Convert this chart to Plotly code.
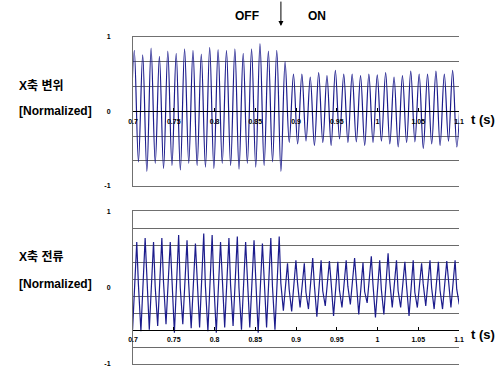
import plotly.graph_objects as go

# ---------------- data ----------------
x_tick_vals = [0.7, 0.75, 0.8, 0.85, 0.9, 0.95, 1.0, 1.05, 1.1]
x_tick_text = ["0.7", "0.75", "0.8", "0.85", "0.9", "0.95", "1", "1.05", "1.1"]
y_tick_vals = [-1, 0, 1]
y_tick_text = ["-1", "0", "1"]

# top panel: X-axis displacement (normalized) - peaks and troughs
disp_peak_t = [0.7016, 0.7119, 0.7222, 0.7324, 0.7427, 0.7530, 0.7633, 0.7736, 0.7838, 0.7941,
               0.8044, 0.8147, 0.8250, 0.8352, 0.8455, 0.8558, 0.8661, 0.8764, 0.8866, 0.8969,
               0.9072, 0.9175, 0.9278, 0.9380, 0.9483, 0.9586, 0.9689, 0.9792, 0.9894, 0.9997,
               1.0100, 1.0203, 1.0306, 1.0408, 1.0511, 1.0614, 1.0717, 1.0820, 1.0922, 1.1025]
disp_peak_v = [0.82, 0.76, 0.85, 0.74, 0.81, 0.78, 0.84, 0.82, 0.77, 0.86,
               0.83, 0.82, 0.84, 0.78, 0.84, 0.91, 0.81, 0.82, 0.67, 0.50,
               0.50, 0.46, 0.52, 0.48, 0.55, 0.50, 0.50, 0.48, 0.50, 0.49,
               0.52, 0.46, 0.48, 0.54, 0.50, 0.50, 0.54, 0.50, 0.55, 0.45]
disp_trough_t = [0.6965, 0.7067, 0.7170, 0.7273, 0.7375, 0.7478, 0.7581, 0.7684, 0.7787, 0.7889,
                 0.7992, 0.8095, 0.8198, 0.8301, 0.8403, 0.8506, 0.8609, 0.8712, 0.8815, 0.8917,
                 0.9020, 0.9123, 0.9226, 0.9329, 0.9431, 0.9534, 0.9637, 0.9740, 0.9843, 0.9945,
                 1.0048, 1.0151, 1.0254, 1.0357, 1.0459, 1.0562, 1.0665, 1.0768, 1.0871, 1.0973]
disp_trough_v = [-0.70, -0.68, -0.81, -0.70, -0.77, -0.73, -0.79, -0.70, -0.73, -0.75,
                 -0.77, -0.70, -0.73, -0.78, -0.70, -0.75, -0.73, -0.68, -0.81, -0.42,
                 -0.44, -0.40, -0.46, -0.42, -0.46, -0.37, -0.42, -0.41, -0.46, -0.42,
                 -0.40, -0.44, -0.48, -0.42, -0.41, -0.50, -0.44, -0.46, -0.40, -0.48]

# bottom panel: X-axis current (normalized) - peaks, falling-edge knees and troughs
curr_peak_t = [0.7046, 0.7149, 0.7252, 0.7354, 0.7457, 0.7560, 0.7663, 0.7766, 0.7868, 0.7971,
               0.8074, 0.8177, 0.8280, 0.8382, 0.8485, 0.8588, 0.8691, 0.8794, 0.8896, 0.8999,
               0.9102, 0.9205, 0.9308, 0.9410, 0.9513, 0.9616, 0.9719, 0.9822, 0.9924, 1.0027,
               1.0130, 1.0233, 1.0336, 1.0438, 1.0541, 1.0644, 1.0747, 1.0850, 1.0952]
curr_peak_v = [0.60, 0.65, 0.60, 0.65, 0.60, 0.69, 0.62, 0.58, 0.71, 0.69,
               0.60, 0.65, 0.67, 0.60, 0.62, 0.58, 0.65, 0.67, 0.32, 0.36,
               0.32, 0.39, 0.36, 0.35, 0.34, 0.36, 0.39, 0.33, 0.41, 0.36,
               0.45, 0.36, 0.34, 0.36, 0.32, 0.36, 0.34, 0.35, 0.36]
curr_knee_t = [0.7066, 0.7169, 0.7272, 0.7374, 0.7477, 0.7580, 0.7683, 0.7786, 0.7888, 0.7991,
               0.8094, 0.8197, 0.8300, 0.8402, 0.8505, 0.8608, 0.8711, 0.8814, 0.8916, 0.9019,
               0.9122, 0.9225, 0.9328, 0.9430, 0.9533, 0.9636, 0.9739, 0.9842, 0.9944, 1.0047,
               1.0150, 1.0253, 1.0356, 1.0458, 1.0561, 1.0664, 1.0767, 1.0870, 1.0972]
curr_knee_v = [0.05, 0.10, 0.02, 0.08, 0.12, 0.00, 0.06, 0.10, 0.03, 0.07,
               0.11, 0.04, 0.00, 0.09, 0.05, 0.12, 0.02, 0.06, -0.02, 0.06,
               -0.06, 0.04, -0.04, 0.08, -0.03, 0.02, 0.07, -0.05, 0.05, -0.02,
               0.09, -0.04, 0.03, -0.06, 0.05, 0.00, -0.03, 0.06, -0.02]
curr_trough_t = [0.6995, 0.7097, 0.7200, 0.7303, 0.7405, 0.7508, 0.7611, 0.7714, 0.7817, 0.7919,
                 0.8022, 0.8125, 0.8228, 0.8331, 0.8433, 0.8536, 0.8639, 0.8742, 0.8845, 0.8947,
                 0.9050, 0.9153, 0.9256, 0.9359, 0.9461, 0.9564, 0.9667, 0.9770, 0.9873, 0.9975,
                 1.0078, 1.0181, 1.0284, 1.0387, 1.0489, 1.0592, 1.0695, 1.0798, 1.0901, 1.1003]
curr_trough_v = [-0.55, -0.57, -0.55, -0.50, -0.48, -0.59, -0.48, -0.53, -0.52, -0.57,
                 -0.59, -0.52, -0.50, -0.55, -0.52, -0.59, -0.52, -0.55, -0.30, -0.31,
                 -0.26, -0.28, -0.38, -0.24, -0.37, -0.26, -0.22, -0.35, -0.20, -0.39,
                 -0.35, -0.26, -0.26, -0.37, -0.26, -0.24, -0.28, -0.28, -0.26, -0.22]

switch_time = 0.8815  # OFF -> ON


def merge(*pairs):
    pts = []
    for ts, vs in pairs:
        pts += list(zip(ts, vs))
    pts.sort()
    return [p[0] for p in pts], [p[1] for p in pts]


disp_t, disp_v = merge((disp_peak_t, disp_peak_v), (disp_trough_t, disp_trough_v))
curr_t, curr_v = merge((curr_peak_t, curr_peak_v), (curr_knee_t, curr_knee_v),
                       (curr_trough_t, curr_trough_v))

# ---------------- figure ----------------
LINE = "#1c1c8c"
GRID = "#6a6a6a"
FONT = "Arial, Liberation Sans, sans-serif"
KFONT = "Arial, Liberation Sans, Noto Sans CJK KR, sans-serif"

fig = go.Figure()
fig.add_trace(go.Scatter(x=disp_t, y=disp_v, mode="lines", xaxis="x", yaxis="y",
                         line=dict(color=LINE, width=1.2, shape="spline"),
                         showlegend=False, hoverinfo="skip"))
fig.add_trace(go.Scatter(x=curr_t, y=curr_v, mode="lines", xaxis="x2", yaxis="y2",
                         line=dict(color=LINE, width=1.2),
                         showlegend=False, hoverinfo="skip"))
# empty traces so the free tick-label axes get drawn
fig.add_trace(go.Scatter(x=[], y=[], xaxis="x3", yaxis="y", showlegend=False, hoverinfo="skip"))
fig.add_trace(go.Scatter(x=[], y=[], xaxis="x4", yaxis="y2", showlegend=False, hoverinfo="skip"))

top_dom = [0.5455, 1.0]
bot_dom = [0.0, 0.4667]
top_zero_pos = top_dom[0] + (0 - (-1)) / 2 * (top_dom[1] - top_dom[0])
bot_axis_val = -5 / 9
bot_zero_pos = bot_dom[0] + (bot_axis_val - (-1)) / 2 * (bot_dom[1] - bot_dom[0])

frame_x = dict(range=[0.7, 1.1], showgrid=False, zeroline=False, showticklabels=False,
               showline=True, mirror=True, linecolor="#707070", linewidth=1, ticks="")
tick_x = dict(range=[0.7, 1.1], tickmode="array", tickvals=x_tick_vals, ticktext=x_tick_text,
              showgrid=False, zeroline=False, showline=True, linecolor="black", linewidth=1,
              ticks="inside", ticklen=3, tickcolor="black", anchor="free",
              tickfont=dict(family=FONT, size=7, color="black", weight="bold"),
              ticklabelstandoff=3)

common_y = dict(range=[-1, 1], tickmode="array", tickvals=y_tick_vals, ticktext=y_tick_text,
                zeroline=False, showline=True, linecolor="#707070", linewidth=1, ticks="",
                tickfont=dict(family=FONT, size=7, color="black", weight="bold"),
                ticklabelstandoff=20)

fig.update_layout(
    width=497, height=372,
    margin=dict(l=133, r=38, t=37, b=5),
    paper_bgcolor="white", plot_bgcolor="white",
    xaxis=dict(anchor="y", **frame_x),
    xaxis2=dict(anchor="y2", **frame_x),
    xaxis3=dict(overlaying="x", position=top_zero_pos, **tick_x),
    xaxis4=dict(overlaying="x2", position=bot_zero_pos, **tick_x),
    yaxis=dict(domain=top_dom, anchor="x", showgrid=True, gridcolor=GRID,
               minor=dict(tickmode="linear", tick0=-1, dtick=1 / 3, showgrid=True,
                          gridcolor=GRID, ticks=""),
               **common_y),
    yaxis2=dict(domain=bot_dom, anchor="x2", showgrid=False,
                minor=dict(tickmode="linear", tick0=-1, dtick=2 / 9, showgrid=True,
                           gridcolor=GRID, ticks=""),
                **common_y),
)

def px_x(px):
    return (px - 133) / 326

def px_y(py):
    return (367 - py) / 330

ann = [
    dict(text="OFF", x=px_x(247), y=px_y(16), size=12, xanchor="center", font=FONT),
    dict(text="ON", x=px_x(317), y=px_y(16), size=12, xanchor="center", font=FONT),
    dict(text="X축 변위", x=px_x(17), y=px_y(86), size=12, xanchor="left", font=KFONT),
    dict(text="[Normalized]", x=px_x(17), y=px_y(112), size=12, xanchor="left", font=FONT),
    dict(text="X축 전류", x=px_x(17), y=px_y(259), size=12, xanchor="left", font=KFONT),
    dict(text="[Normalized]", x=px_x(17), y=px_y(286), size=12, xanchor="left", font=FONT),
    dict(text="t (s)", x=px_x(469), y=px_y(120), size=13, xanchor="left", font=FONT),
    dict(text="t (s)", x=px_x(469), y=px_y(337), size=13, xanchor="left", font=FONT),
]
for a in ann:
    fig.add_annotation(text=a["text"], xref="paper", yref="paper", x=a["x"], y=a["y"],
                       xanchor=a["xanchor"], yanchor="middle", showarrow=False,
                       font=dict(family=a["font"], size=a["size"], color="black", weight="bold"))

# arrow marking the switching instant
fig.add_annotation(text="", xref="x", yref="paper", x=switch_time, y=px_y(26),
                   ax=0, ay=-26, axref="pixel", ayref="pixel", showarrow=True,
                   arrowhead=2, arrowsize=1, arrowwidth=1, arrowcolor="black")

fig.write_html("out.html", config={"displayModeBar": False},
               post_script="document.body.style.margin='0';document.body.style.padding='0';")
